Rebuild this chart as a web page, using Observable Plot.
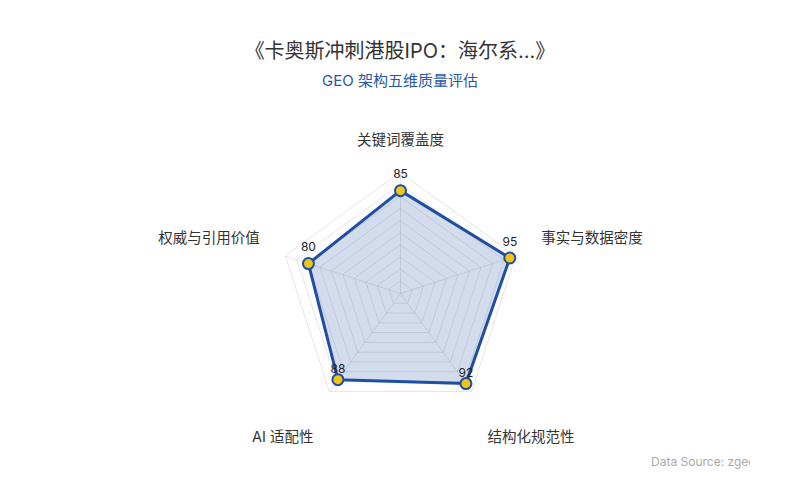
<!DOCTYPE html>
<html>
<head>
<meta charset="utf-8">
<script src="https://cdn.jsdelivr.net/npm/d3@7"></script>
<script src="https://cdn.jsdelivr.net/npm/@observablehq/plot@0.6"></script>
<style>
  body { margin:0; background:#fff; font-family: Inter, "Noto Sans CJK SC", "Noto Sans", sans-serif; }
  #wrap { position:relative; width:800px; height:500px; overflow:hidden; }
  #header { position:relative; height:100px; }
  #title { position:absolute; top:38px; left:0; width:800px; text-align:center; font-size:20px; color:#333; line-height:26px; }
  #subtitle { position:absolute; top:71px; left:0; width:800px; text-align:center; font-size:15px; color:#2858a6; line-height:20px; }
  #source { position:absolute; top:454px; left:651px; width:99px; overflow:hidden; white-space:nowrap; font-size:12px; color:#aaa; line-height:16px; }
  svg { display:block; }
</style>
</head>
<body>
<div id="wrap">
  <div id="header">
    <div id="title">《卡奥斯冲刺港股IPO：海尔系...》</div>
    <div id="subtitle">GEO 架构五维质量评估</div>
  </div>
  <div id="chart"></div>
  <div id="source">Data Source: zgeo.ai</div>
</div>
<script>
const axesNames = ["关键词覆盖度", "事实与数据密度", "结构化规范性", "AI 适配性", "权威与引用价值"];
const scores = [85, 95, 92, 88, 80];
const levels = [10, 20, 30, 40, 50, 60, 70, 80, 90, 100];
const maxValue = 100;

const W = 800, H = 370, R = 121, cx = 400, cy = 193;
const k = maxValue / R; // data units per pixel
const n = axesNames.length;
const ang = i => Math.PI / 2 - i * 2 * Math.PI / n;

const ringData = levels.flatMap(l => d3.range(n).map(j => ({level: l, x: l * Math.cos(ang(j)), y: l * Math.sin(ang(j))})));
const spokeData = d3.range(n).map(j => ({x2: maxValue * Math.cos(ang(j)), y2: maxValue * Math.sin(ang(j))}));
const pts = scores.map((v, i) => ({v, i, x: v * Math.cos(ang(i)), y: v * Math.sin(ang(i)), s: Math.sin(ang(i))}));
const labels = axesNames.map((name, i) => {
  const c = Math.cos(ang(i)), s = Math.sin(ang(i));
  const ry = s > 0.9 ? 153 : 178;
  return {name, c, x: c * 148 * k, y: s * ry * k};
});

const blue = "#1e4fa3";
const chart = Plot.plot({
  width: W, height: H,
  margin: 0,
  x: {domain: [-cx * k, (W - cx) * k], range: [0, W], axis: null},
  y: {domain: [-(H - cy) * k, cy * k], range: [H, 0], axis: null},
  style: {fontFamily: 'Inter, "Noto Sans CJK SC", sans-serif', background: "transparent"},
  marks: [
    Plot.line(pts, {x: "x", y: "y", curve: "linear-closed", fill: blue, fillOpacity: 0.2, stroke: "none"}),
    Plot.line(ringData, {x: "x", y: "y", z: "level", curve: "linear-closed", stroke: "#888", strokeOpacity: 0.22, strokeWidth: 1}),
    Plot.link(spokeData, {x1: 0, y1: 0, x2: "x2", y2: "y2", stroke: "#888", strokeOpacity: 0.22, strokeWidth: 1}),
    Plot.line(pts, {x: "x", y: "y", curve: "linear-closed", fill: "none", stroke: blue, strokeWidth: 3, strokeLinejoin: "round"}),
    Plot.dot(pts, {x: "x", y: "y", r: 5.5, fill: "#f2c418", stroke: blue, strokeWidth: 2}),
    Plot.text(pts.filter(d => d.s >= 0), {x: "x", y: "y", text: d => String(d.v), dy: -16, fontSize: 12, fill: "#222"}),
    Plot.text(pts.filter(d => d.s < 0), {x: "x", y: "y", text: d => String(d.v), dy: -10, fontSize: 12, fill: "#222"}),
    Plot.text(labels.filter(d => Math.abs(d.c) < 0.01), {x: "x", y: "y", text: "name", textAnchor: "middle", fontSize: 14.5, fill: "#333"}),
    Plot.text(labels.filter(d => d.c >= 0.01), {x: "x", y: "y", text: "name", textAnchor: "start", fontSize: 14.5, fill: "#333"}),
    Plot.text(labels.filter(d => d.c <= -0.01), {x: "x", y: "y", text: "name", textAnchor: "end", fontSize: 14.5, fill: "#333"})
  ]
});
document.getElementById("chart").appendChild(chart);
</script>
</body>
</html>
